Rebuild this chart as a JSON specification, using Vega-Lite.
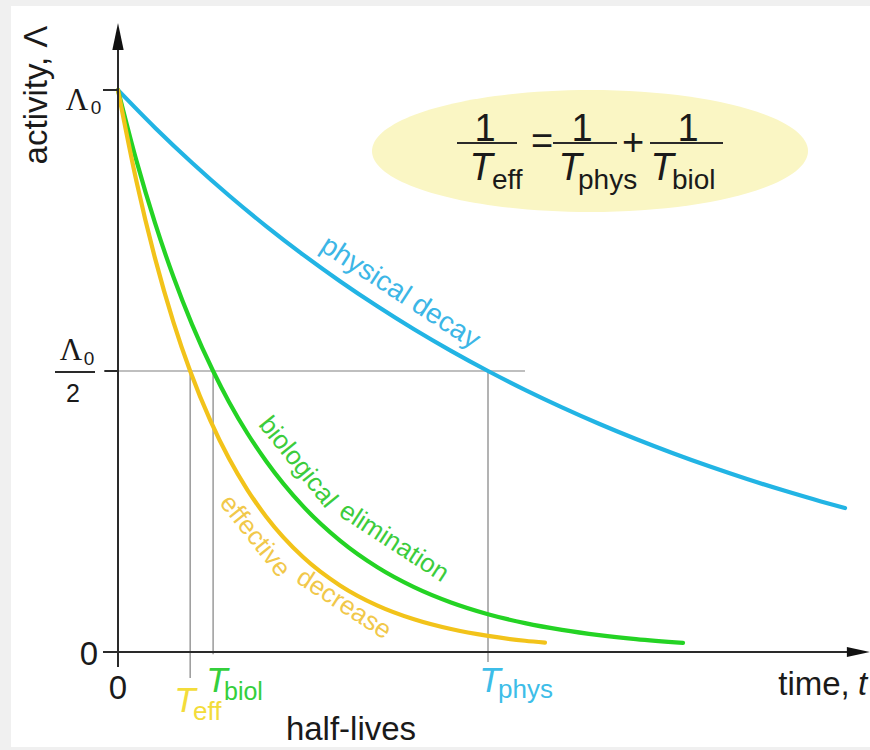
{
  "$schema": "https://vega.github.io/schema/vega-lite/v6.json",
  "width": 870,
  "height": 750,
  "autosize": {"type": "fit", "contains": "padding"},
  "padding": 0,
  "background": "#f0f0f0",
  "config": {"view": {"stroke": null}, "font": "Liberation Sans"},
  "datasets": {
    "curves": [
      {"series": "physical decay", "t": 0, "a": 1},
      {"series": "physical decay", "t": 1, "a": 0.9330},
      {"series": "physical decay", "t": 2, "a": 0.8706},
      {"series": "physical decay", "t": 3, "a": 0.8123},
      {"series": "physical decay", "t": 4, "a": 0.7579},
      {"series": "physical decay", "t": 5, "a": 0.7071},
      {"series": "physical decay", "t": 6, "a": 0.6598},
      {"series": "physical decay", "t": 7, "a": 0.6156},
      {"series": "physical decay", "t": 8, "a": 0.5743},
      {"series": "physical decay", "t": 9, "a": 0.5359},
      {"series": "physical decay", "t": 10, "a": 0.5},
      {"series": "physical decay", "t": 11, "a": 0.4665},
      {"series": "physical decay", "t": 12, "a": 0.4353},
      {"series": "physical decay", "t": 13, "a": 0.4061},
      {"series": "physical decay", "t": 14, "a": 0.3789},
      {"series": "physical decay", "t": 15, "a": 0.3536},
      {"series": "physical decay", "t": 16, "a": 0.3299},
      {"series": "physical decay", "t": 17, "a": 0.3078},
      {"series": "physical decay", "t": 18, "a": 0.2872},
      {"series": "physical decay", "t": 19, "a": 0.2679},
      {"series": "physical decay", "t": 19.65, "a": 0.2562},
      {"series": "biological elimination", "t": 0, "a": 1},
      {"series": "biological elimination", "t": 0.5, "a": 0.8738},
      {"series": "biological elimination", "t": 1, "a": 0.7635},
      {"series": "biological elimination", "t": 1.5, "a": 0.6672},
      {"series": "biological elimination", "t": 2, "a": 0.5830},
      {"series": "biological elimination", "t": 2.57, "a": 0.5},
      {"series": "biological elimination", "t": 3, "a": 0.4450},
      {"series": "biological elimination", "t": 3.5, "a": 0.3888},
      {"series": "biological elimination", "t": 4, "a": 0.3399},
      {"series": "biological elimination", "t": 5, "a": 0.2595},
      {"series": "biological elimination", "t": 6, "a": 0.1982},
      {"series": "biological elimination", "t": 7, "a": 0.1513},
      {"series": "biological elimination", "t": 8, "a": 0.1155},
      {"series": "biological elimination", "t": 9, "a": 0.0882},
      {"series": "biological elimination", "t": 10, "a": 0.0673},
      {"series": "biological elimination", "t": 11, "a": 0.0514},
      {"series": "biological elimination", "t": 12, "a": 0.0393},
      {"series": "biological elimination", "t": 13, "a": 0.0300},
      {"series": "biological elimination", "t": 14, "a": 0.0229},
      {"series": "biological elimination", "t": 15.27, "a": 0.0163},
      {"series": "effective decrease", "t": 0, "a": 1},
      {"series": "effective decrease", "t": 0.5, "a": 0.8372},
      {"series": "effective decrease", "t": 1, "a": 0.7008},
      {"series": "effective decrease", "t": 1.5, "a": 0.5867},
      {"series": "effective decrease", "t": 1.95, "a": 0.5},
      {"series": "effective decrease", "t": 2.5, "a": 0.4112},
      {"series": "effective decrease", "t": 3, "a": 0.3442},
      {"series": "effective decrease", "t": 3.5, "a": 0.2882},
      {"series": "effective decrease", "t": 4, "a": 0.2412},
      {"series": "effective decrease", "t": 5, "a": 0.1690},
      {"series": "effective decrease", "t": 6, "a": 0.1185},
      {"series": "effective decrease", "t": 7, "a": 0.0830},
      {"series": "effective decrease", "t": 8, "a": 0.0582},
      {"series": "effective decrease", "t": 9, "a": 0.0408},
      {"series": "effective decrease", "t": 10, "a": 0.0286},
      {"series": "effective decrease", "t": 11, "a": 0.0200},
      {"series": "effective decrease", "t": 11.54, "a": 0.0166}
    ],
    "guides": [
      {"name": "half level", "t": 0, "a": 0.5, "t2": 11.0, "a2": 0.5},
      {"name": "T eff", "t": 1.95, "a": 0.5, "t2": 1.95, "a2": -0.0463},
      {"name": "T biol", "t": 2.57, "a": 0.5, "t2": 2.57, "a2": -0.004},
      {"name": "T phys", "t": 10, "a": 0.5, "t2": 10, "a2": -0.0178}
    ],
    "axes": [
      {"name": "y axis", "t": 0, "a": -0.0267, "t2": 0, "a2": 1.075},
      {"name": "x axis", "t": -0.405, "a": 0, "t2": 19.8, "a2": 0},
      {"name": "A0 tick", "t": -0.405, "a": 1, "t2": 0, "a2": 1},
      {"name": "A0/2 tick", "t": -0.37, "a": 0.5, "t2": 0, "a2": 0.5},
      {"name": "A0/2 bar", "t": -1.7027, "a": 0.4982, "t2": -0.6216, "a2": 0.4982},
      {"name": "bar eff", "t": 9.1622, "a": 0.9057, "t2": 10.7838, "a2": 0.9057},
      {"name": "bar phys", "t": 11.7568, "a": 0.9057, "t2": 13.4865, "a2": 0.9057},
      {"name": "bar biol", "t": 14.3784, "a": 0.9057, "t2": 16.3514, "a2": 0.9057}
    ]
  },
  "encoding": {
    "x": {"field": "t", "type": "quantitative", "scale": {"domain": [-3.1892, 20.3243], "nice": false, "zero": false}, "axis": null},
    "y": {"field": "a", "type": "quantitative", "scale": {"domain": [-0.17438, 1.16014], "nice": false, "zero": false}, "axis": null}
  },
  "layer": [
    {
      "data": {"values": [{"t": -2.8919, "a": -0.169, "t2": 20.3243, "a2": 1.1495}]},
      "mark": {"type": "rect", "color": "#ffffff"},
      "encoding": {"x2": {"field": "t2"}, "y2": {"field": "a2"}}
    },
    {
      "data": {"values": [{"t": 12.7568, "a": 0.8915}]},
      "mark": {"type": "point", "filled": true, "color": "#faf6c4", "opacity": 1, "size": 190096, "shape": "M-1,0A1,0.28,0,1,0,1,0A1,0.28,0,1,0,-1,0Z", "strokeWidth": 0}
    },
    {
      "data": {"name": "guides"},
      "mark": {"type": "rule", "color": "#808080", "strokeWidth": 1.2},
      "encoding": {"x2": {"field": "t2"}, "y2": {"field": "a2"}}
    },
    {
      "data": {"name": "curves"},
      "mark": {"type": "line", "strokeWidth": 4.2, "strokeCap": "round", "interpolate": "monotone"},
      "encoding": {
        "color": {"field": "series", "type": "nominal", "legend": null,
          "scale": {"domain": ["physical decay", "biological elimination", "effective decrease"], "range": ["#22b4e4", "#24d324", "#f2c31a"]}},
        "order": {"field": "t", "type": "quantitative"}
      }
    },
    {
      "data": {"name": "axes"},
      "mark": {"type": "rule", "color": "#2a2a2a", "strokeWidth": 2},
      "encoding": {"x2": {"field": "t2"}, "y2": {"field": "a2"}}
    },
    {
      "data": {"values": [{"t": 0, "a": 1.0952}]},
      "mark": {"type": "point", "filled": true, "color": "#111111", "opacity": 1, "size": 729, "shape": "M0,-1L0.42,1L-0.42,1Z", "strokeWidth": 0}
    },
    {
      "data": {"values": [{"t": 20.01, "a": 0}]},
      "mark": {"type": "point", "filled": true, "color": "#111111", "opacity": 1, "size": 529, "shape": "M1,0L-1,0.43L-1,-0.43Z", "strokeWidth": 0}
    },
    {
      "data": {"values": [{"label": "activity, Λ", "t": -1.9189, "a": 0.9911}]},
      "mark": {"type": "text", "angle": 270, "fontSize": 33, "align": "center", "baseline": "alphabetic", "color": "#1a1a1a"},
      "encoding": {"text": {"field": "label"}}
    },
    {
      "data": {"values": [{"label": "Λ", "t": -1.1081, "a": 0.9644}, {"label": "Λ", "t": -1.2703, "a": 0.5196}]},
      "mark": {"type": "text", "font": "Liberation Serif", "fontSize": 31, "align": "center", "baseline": "alphabetic", "color": "#1a1a1a"},
      "encoding": {"text": {"field": "label"}}
    },
    {
      "data": {"values": [{"label": "0", "t": -0.5946, "a": 0.9573}, {"label": "0", "t": -0.7838, "a": 0.5107}]},
      "mark": {"type": "text", "fontSize": 19, "align": "center", "baseline": "alphabetic", "color": "#1a1a1a"},
      "encoding": {"text": {"field": "label"}}
    },
    {
      "data": {"values": [{"label": "2", "t": -1.2162, "a": 0.4448}]},
      "mark": {"type": "text", "fontSize": 25, "align": "center", "baseline": "alphabetic", "color": "#1a1a1a"},
      "encoding": {"text": {"field": "label"}}
    },
    {
      "data": {"values": [{"label": "0", "t": -0.7838, "a": -0.0231}, {"label": "0", "t": 0, "a": -0.0836}, {"label": "time,", "t": 18.8108, "a": -0.0765}, {"label": "half-lives", "t": 6.2973, "a": -0.1566}]},
      "mark": {"type": "text", "fontSize": 33, "align": "center", "baseline": "alphabetic", "color": "#1a1a1a"},
      "encoding": {"text": {"field": "label"}}
    },
    {
      "data": {"values": [{"label": "t", "t": 20.0, "a": -0.0765}]},
      "mark": {"type": "text", "fontSize": 33, "fontStyle": "italic", "align": "left", "baseline": "alphabetic", "color": "#1a1a1a"},
      "encoding": {"text": {"field": "label"}}
    },
    {
      "data": {"values": [{"label": "T", "t": 1.8108, "a": -0.1068}]},
      "mark": {"type": "text", "fontSize": 35, "fontStyle": "italic", "align": "center", "baseline": "alphabetic", "color": "#f3dc3a"},
      "encoding": {"text": {"field": "label"}}
    },
    {
      "data": {"values": [{"label": "eff", "t": 2.027, "a": -0.121}]},
      "mark": {"type": "text", "fontSize": 26, "align": "left", "baseline": "alphabetic", "color": "#f3dc3a"},
      "encoding": {"text": {"field": "label"}}
    },
    {
      "data": {"values": [{"label": "T", "t": 2.6757, "a": -0.0712}]},
      "mark": {"type": "text", "fontSize": 35, "fontStyle": "italic", "align": "center", "baseline": "alphabetic", "color": "#34cf3c"},
      "encoding": {"text": {"field": "label"}}
    },
    {
      "data": {"values": [{"label": "biol", "t": 2.8649, "a": -0.0854}]},
      "mark": {"type": "text", "fontSize": 25, "align": "left", "baseline": "alphabetic", "color": "#34cf3c"},
      "encoding": {"text": {"field": "label"}}
    },
    {
      "data": {"values": [{"label": "T", "t": 10.0541, "a": -0.0712}]},
      "mark": {"type": "text", "fontSize": 35, "fontStyle": "italic", "align": "center", "baseline": "alphabetic", "color": "#3dbde8"},
      "encoding": {"text": {"field": "label"}}
    },
    {
      "data": {"values": [{"label": "phys", "t": 10.2703, "a": -0.0819}]},
      "mark": {"type": "text", "fontSize": 26, "align": "left", "baseline": "alphabetic", "color": "#3dbde8"},
      "encoding": {"text": {"field": "label"}}
    },
    {
      "data": {"values": [{"label": "1", "t": 9.9189, "a": 0.9093}, {"label": "1", "t": 12.5405, "a": 0.9093}, {"label": "1", "t": 15.4054, "a": 0.9093}, {"label": "=", "t": 11.4595, "a": 0.8861}, {"label": "+", "t": 13.9189, "a": 0.8843}]},
      "mark": {"type": "text", "fontSize": 38, "align": "center", "baseline": "alphabetic", "color": "#1a1a1a"},
      "encoding": {"text": {"field": "label"}}
    },
    {
      "data": {"values": [{"label": "T", "t": 9.8108, "a": 0.8399}, {"label": "T", "t": 12.2162, "a": 0.8399}, {"label": "T", "t": 14.7027, "a": 0.8399}]},
      "mark": {"type": "text", "fontSize": 38, "fontStyle": "italic", "align": "center", "baseline": "alphabetic", "color": "#1a1a1a"},
      "encoding": {"text": {"field": "label"}}
    },
    {
      "data": {"values": [{"label": "eff", "t": 10.108, "a": 0.8238}, {"label": "phys", "t": 12.4324, "a": 0.8238}, {"label": "biol", "t": 14.973, "a": 0.8238}]},
      "mark": {"type": "text", "fontSize": 28, "align": "left", "baseline": "alphabetic", "color": "#1a1a1a"},
      "encoding": {"text": {"field": "label"}}
    },
    {
      "data": {"values": [{"label": "physical decay", "t": 7.6216, "a": 0.6388}]},
      "mark": {"type": "text", "fontSize": 28, "angle": 33, "align": "center", "baseline": "middle", "color": "#3cb6e6"},
      "encoding": {"text": {"field": "label"}}
    },
    {
      "data": {"values": [{"label": "biological", "t": 4.8649, "a": 0.3381}]},
      "mark": {"type": "text", "fontSize": 26, "angle": 51, "align": "center", "baseline": "middle", "color": "#3ccc3c"},
      "encoding": {"text": {"field": "label"}}
    },
    {
      "data": {"values": [{"label": "elimination", "t": 7.4595, "a": 0.1957}]},
      "mark": {"type": "text", "fontSize": 26, "angle": 33, "align": "center", "baseline": "middle", "color": "#3ccc3c"},
      "encoding": {"text": {"field": "label"}}
    },
    {
      "data": {"values": [{"label": "effective", "t": 3.7027, "a": 0.2064}]},
      "mark": {"type": "text", "fontSize": 26, "angle": 51.5, "align": "center", "baseline": "middle", "color": "#f1c84a"},
      "encoding": {"text": {"field": "label"}}
    },
    {
      "data": {"values": [{"label": "decrease", "t": 6.1081, "a": 0.0854}]},
      "mark": {"type": "text", "fontSize": 26, "angle": 33, "align": "center", "baseline": "middle", "color": "#f1c84a"},
      "encoding": {"text": {"field": "label"}}
    }
  ]
}
